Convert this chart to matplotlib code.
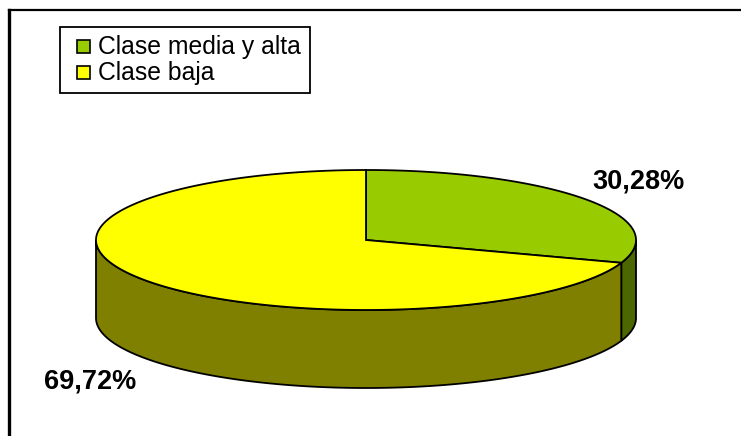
import numpy as np
import matplotlib.pyplot as plt
from matplotlib.patches import Polygon, Rectangle

# Data
categories = ["Clase media y alta", "Clase baja"]
shares = [30.28, 69.72]
value_labels = ["30,28%", "69,72%"]
top_colors = ["#99CC00", "#FFFF00"]
side_colors = ["#4C6600", "#808000"]

plt.rcParams['font.family'] = ['Liberation Sans', 'DejaVu Sans']

W, H = 741, 436
fig = plt.figure(figsize=(W / 100, H / 100), dpi=100)
ax = fig.add_axes([0, 0, 1, 1])
ax.set_xlim(0, W)
ax.set_ylim(H, 0)
ax.axis('off')

# 3D pie geometry (pixels)
cx, cy, a, b, depth = 366, 240, 270, 70, 78


def pt(theta_deg, dy=0):
    t = np.radians(theta_deg)
    return cx + a * np.cos(t), cy - b * np.sin(t) + dy


def arc(t1, t2, dy=0, n=200):
    ts = np.linspace(t1, t2, n)
    return [pt(t, dy) for t in ts]


# slice angles, starting at 12 o'clock, clockwise
bounds = []
start = 90.0
for s in shares:
    end = start - 360.0 * s / sum(shares)
    bounds.append((start, end))
    start = end

# side walls (only the front half, angles between -180 and 0)
for (t1, t2), col in zip(bounds, side_colors):
    lo, hi = min(t1, t2), max(t1, t2)
    f_lo, f_hi = max(lo, -180), min(hi, 0)
    if f_hi > f_lo:
        top = arc(f_hi, f_lo)
        bot = arc(f_lo, f_hi, depth)
        ax.add_patch(Polygon(top + bot, closed=True, facecolor=col,
                             edgecolor='black', lw=1.3, zorder=2))

# top faces
for (t1, t2), col in zip(bounds, top_colors):
    verts = [(cx, cy)] + arc(t1, t2)
    ax.add_patch(Polygon(verts, closed=True, facecolor=col,
                         edgecolor='black', lw=1.3, zorder=3))

# value labels
ax.text(638, 181, value_labels[0], fontsize=19.5, fontweight='bold',
        ha='center', va='center', zorder=5)
ax.text(90, 381, value_labels[1], fontsize=19.5, fontweight='bold',
        ha='center', va='center', zorder=5)

# legend
ax.add_patch(Rectangle((60, 27), 250, 66, facecolor='white',
                       edgecolor='black', lw=1.3, zorder=4))
for i, (name, col) in enumerate(zip(categories, top_colors)):
    y = 47 + 26 * i
    ax.add_patch(Rectangle((77, y - 7), 13, 13, facecolor=col,
                           edgecolor='black', lw=1.2, zorder=5))
    ax.text(98, y, name, fontsize=17.8, ha='left', va='center', zorder=5)

# chart frame (only top and left visible)
ax.plot([9, W], [10, 10], color='black', lw=1.6, zorder=6)
ax.plot([9, 9], [10, H], color='black', lw=2.4, zorder=6)

fig.savefig("out.png", dpi=100)
